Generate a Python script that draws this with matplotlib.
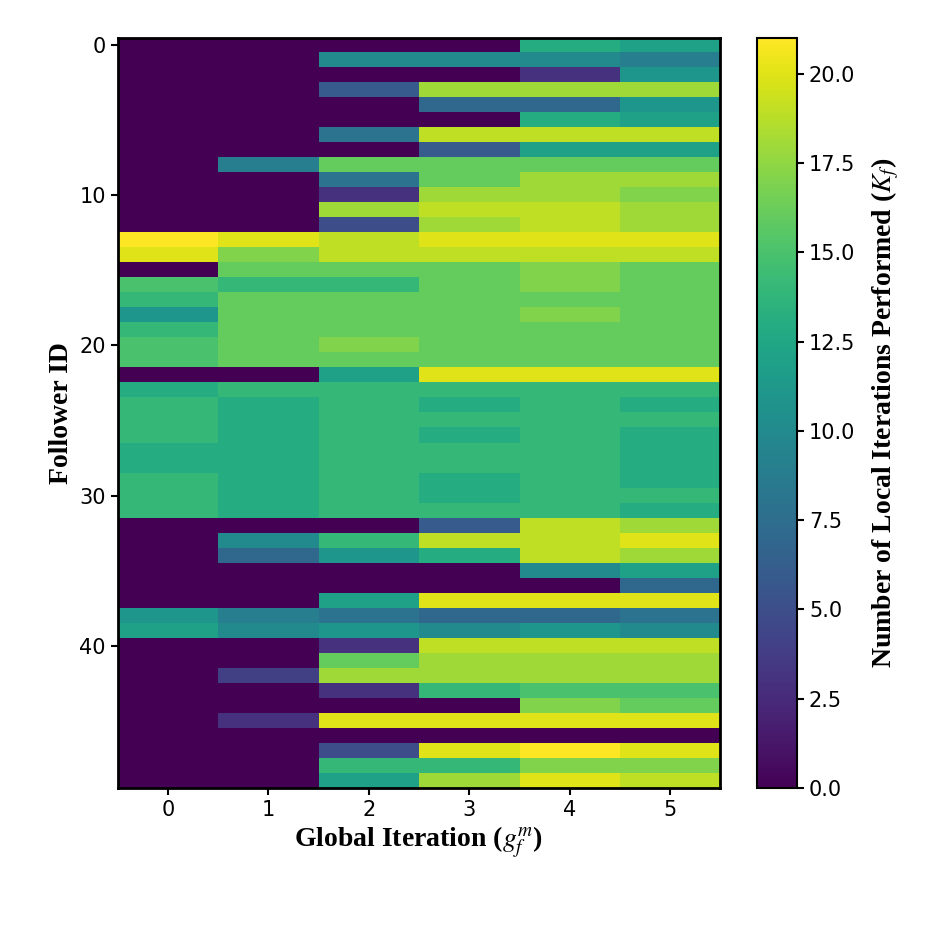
import numpy as np
import matplotlib
matplotlib.use("Agg")
import matplotlib.pyplot as plt

plt.rcParams['mathtext.fontset'] = 'stix'

iterations = [0, 1, 2, 3, 4, 5]
followers = list(range(50))
local_iters = [
    [0,0,0,0,13,12],
    [0,0,10,10,10,9],
    [0,0,0,0,3,11],
    [0,0,6,18,18,18],
    [0,0,0,7,7,11],
    [0,0,0,0,13,12],
    [0,0,8,19,19,19],
    [0,0,0,6,12,12],
    [0,9,16,16,16,16],
    [0,0,8,16,18,18],
    [0,0,3,18,18,17],
    [0,0,18,19,19,18],
    [0,0,5,18,19,18],
    [21,20,19,20,20,20],
    [20,17,19,19,19,19],
    [0,16,16,16,17,16],
    [15,14,14,16,17,16],
    [14,16,16,16,16,16],
    [11,16,16,16,17,16],
    [14,16,16,16,16,16],
    [15,16,17,16,16,16],
    [15,16,16,16,16,16],
    [0,0,12,20,20,20],
    [13,14,14,14,14,14],
    [14,13,14,13,14,13],
    [14,13,14,14,14,14],
    [14,13,14,13,14,13],
    [13,13,14,14,14,13],
    [13,13,14,14,14,13],
    [14,13,14,13,14,13],
    [14,13,14,13,14,14],
    [14,13,14,14,14,13],
    [0,0,0,6,19,18],
    [0,10,14,19,19,20],
    [0,7,11,13,19,18],
    [0,0,0,0,10,12],
    [0,0,0,0,0,7],
    [0,0,12,20,20,20],
    [11,9,8,7,7,8],
    [12,10,11,10,11,10],
    [0,0,3,19,19,19],
    [0,0,16,18,18,18],
    [0,4,18,18,18,18],
    [0,0,3,14,15,15],
    [0,0,0,0,17,16],
    [0,3,20,20,20,20],
    [0,0,0,0,0,0],
    [0,0,5,20,21,20],
    [0,0,14,14,17,17],
    [0,0,12,18,20,19],
]

fig = plt.figure(figsize=(9.49, 9.26), dpi=100)
ax = fig.add_axes([0.124, 0.149, 0.635, 0.810])
cax = fig.add_axes([0.798, 0.149, 0.042, 0.810])
im = ax.imshow(np.array(local_iters), cmap='viridis', vmin=0, vmax=21,
               aspect='auto', interpolation='nearest')
ax.set_xticks(iterations)
ax.set_yticks([0, 10, 20, 30, 40])
ax.tick_params(labelsize=15, width=1.5, length=5)
for s in ax.spines.values():
    s.set_linewidth(2)
lab = dict(fontsize=20, fontweight='bold', family='Liberation Serif')
ax.set_xlabel(r'Global Iteration ($g_f^m$)', **lab)
ax.set_ylabel('Follower ID', **lab)
cb = fig.colorbar(im, cax=cax, ticks=np.arange(0, 21, 2.5))
cb.ax.tick_params(labelsize=15, width=1.5, length=5)
cb.outline.set_linewidth(1.5)
cb.set_label(r'Number of Local Iterations Performed ($K_f$)', labelpad=10, **lab)
fig.savefig('out.png', dpi=100)
